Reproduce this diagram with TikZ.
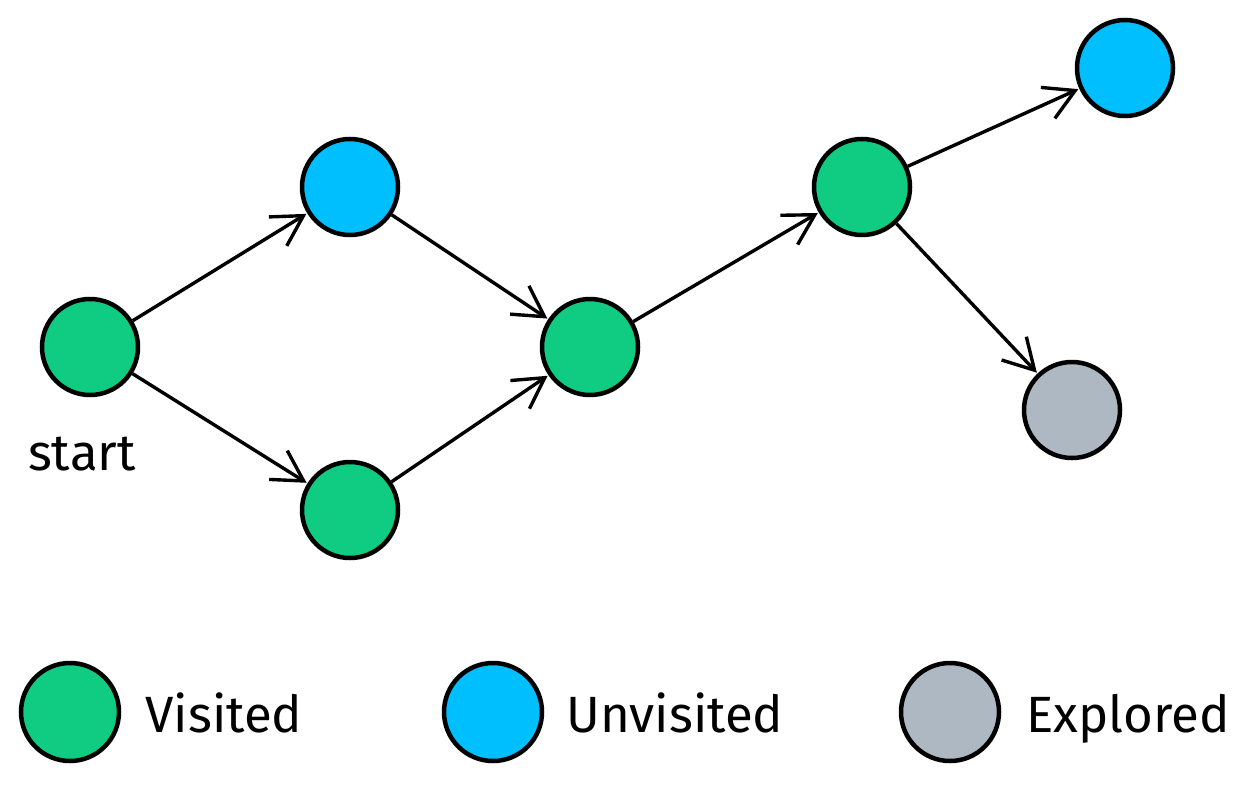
\documentclass[tikz,border=0pt]{standalone}
\usepackage{fontspec}
\setmainfont{Fira Sans}
\usetikzlibrary{arrows.meta}
\definecolor{vis}{RGB}{16,204,130}
\definecolor{unv}{RGB}{0,191,255}
\definecolor{exp}{RGB}{174,184,194}
\tikzset{
  vnode/.style={circle,draw=black,line width=4.5pt,minimum size=96pt,inner sep=0pt},
  conn/.style={line width=3.4pt,-{Straight Barb[length=30pt,width=34pt,line width=3.4pt]},shorten >=1pt},
  lbl/.style={font=\fontsize{51}{55}\selectfont,text=black}
}
\begin{document}
\begin{tikzpicture}[x=1pt,y=-1pt]
\useasboundingbox (0,0) rectangle (1246,784);
\node[vnode,fill=vis] (s) at (90,347) {};
\node[vnode,fill=unv] (a) at (350,187) {};
\node[vnode,fill=vis] (b) at (350,510) {};
\node[vnode,fill=vis] (m) at (590,347) {};
\node[vnode,fill=vis] (c) at (862,187) {};
\node[vnode,fill=unv] (d) at (1125,68) {};
\node[vnode,fill=exp] (e) at (1072,410) {};
\node[lbl,anchor=base] (st) at (82,470) {start};
\draw[conn] (s) -- (a);
\draw[conn] (s) -- (b);
\draw[conn] (a) -- (m);
\draw[conn] (b) -- (m);
\draw[conn] (m) -- (c);
\draw[conn] (c) -- (d);
\draw[conn] (c) -- (e);
\node[vnode,fill=vis,minimum size=98pt] (l1) at (70,712) {};
\node[vnode,fill=unv,minimum size=98pt] (l2) at (493,712) {};
\node[vnode,fill=exp,minimum size=98pt] (l3) at (950,712) {};
\node[lbl,anchor=base west] (t1) at (142,732) {Visited};
\node[lbl,anchor=base west] (t2) at (563,732) {Unvisited};
\node[lbl,anchor=base west] (t3) at (1023,732) {Explored};
\end{tikzpicture}
\end{document}
